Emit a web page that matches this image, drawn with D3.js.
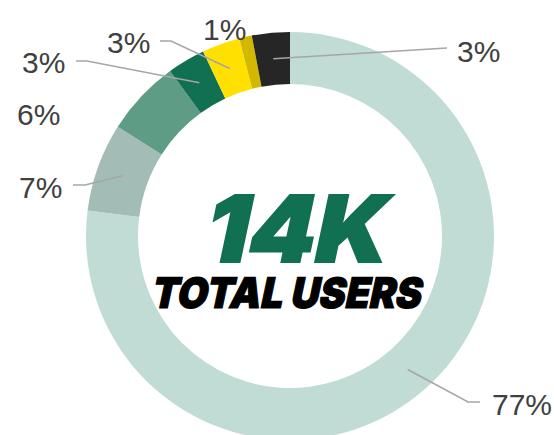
<!DOCTYPE html>
<html>
<head>
<meta charset="utf-8">
<script src="https://cdn.jsdelivr.net/npm/d3@7"></script>
<style>
  html, body { margin: 0; padding: 0; background: #fff; }
  svg { display: block; }
</style>
</head>
<body>
<svg id="chart" width="554" height="435"></svg>
<script>
// User share by segment, clockwise from 12 o'clock
const segments = ["Segment A", "Segment B", "Segment C", "Segment D", "Segment E", "Segment F", "Segment G"];
const shares   = [77, 7, 6, 3, 3, 1, 3];
const palette  = ["#c0dcd5", "#a3bdb6", "#5f9c86", "#116f52", "#ffe000", "#d4b800", "#262626"];
const totalLabel = "14K";
const subtitle   = "TOTAL USERS";

// Callout layout (relative to ring centre): text anchor point and optional leader elbow
const callouts = [
  { text: [202, 179], anchor: "start", elbow: [178, 166], end: [190, 166] },
  { text: [-271, -38], anchor: "start", elbow: [-205, -51], end: [-217, -51] },
  { text: [-273, -111], anchor: "start", elbow: null },
  { text: [-268, -163], anchor: "start", elbow: [-203, -175], end: [-214, -175] },
  { text: [-183, -183], anchor: "start", elbow: [-119, -195], end: [-130, -195] },
  { text: [-87, -196], anchor: "start", elbow: null },
  { text: [167, -174], anchor: "start", elbow: null, end: [157, -188] }
];

const svg = d3.select("#chart");
const cx = 290, cy = 236;
const outerR = 204, innerR = 152;

const g = svg.append("g").attr("transform", `translate(${cx},${cy})`);

const pie = d3.pie().sort(null).value(d => d.v);
const arc = d3.arc().innerRadius(innerR).outerRadius(outerR);
const arcs = pie(shares.map((v, i) => ({ v, name: segments[i], color: palette[i] })));

g.selectAll("path.slice")
  .data(arcs)
  .join("path")
  .attr("class", "slice")
  .attr("d", arc)
  .attr("fill", d => d.data.color);

// Leader lines from each slice's centroid
arcs.forEach((d, i) => {
  const c = callouts[i];
  if (!c.end) return;
  const start = arc.centroid(d);
  const pts = c.elbow ? [start, c.elbow, c.end] : [start, c.end];
  g.append("path")
    .attr("d", d3.line()(pts))
    .attr("fill", "none")
    .attr("stroke", "#a6a6a6")
    .attr("stroke-width", 1.5);
});

// Percentage labels
g.selectAll("text.pct")
  .data(arcs)
  .join("text")
  .attr("class", "pct")
  .attr("x", (d, i) => callouts[i].text[0])
  .attr("y", (d, i) => callouts[i].text[1])
  .attr("text-anchor", (d, i) => callouts[i].anchor)
  .attr("font-family", "'Liberation Sans', Arial, sans-serif")
  .attr("font-size", 30)
  .attr("fill", "#404040")
  .text(d => d.data.v + "%");

// Centre headline: heavy slanted type
const slant = "skewX(-12)";

g.append("g")
  .attr("transform", `translate(-89,26) ${slant}`)
  .append("text")
  .attr("x", 0)
  .attr("y", 0)
  .attr("textLength", 182)
  .attr("lengthAdjust", "spacingAndGlyphs")
  .attr("font-family", "Inter, Lato, sans-serif")
  .attr("font-weight", 900)
  .attr("font-size", 92)
  .attr("fill", "#116f52")
  .attr("stroke", "#116f52")
  .attr("stroke-width", 2)
  .text(totalLabel);

g.append("g")
  .attr("transform", `translate(-140,72) ${slant}`)
  .append("text")
  .attr("x", 0)
  .attr("y", 0)
  .attr("textLength", 270)
  .attr("lengthAdjust", "spacingAndGlyphs")
  .attr("font-family", "Inter, Lato, sans-serif")
  .attr("font-weight", 900)
  .attr("font-size", 42)
  .attr("fill", "#000")
  .attr("stroke", "#000")
  .attr("stroke-width", 1.2)
  .text(subtitle);
</script>
</body>
</html>
